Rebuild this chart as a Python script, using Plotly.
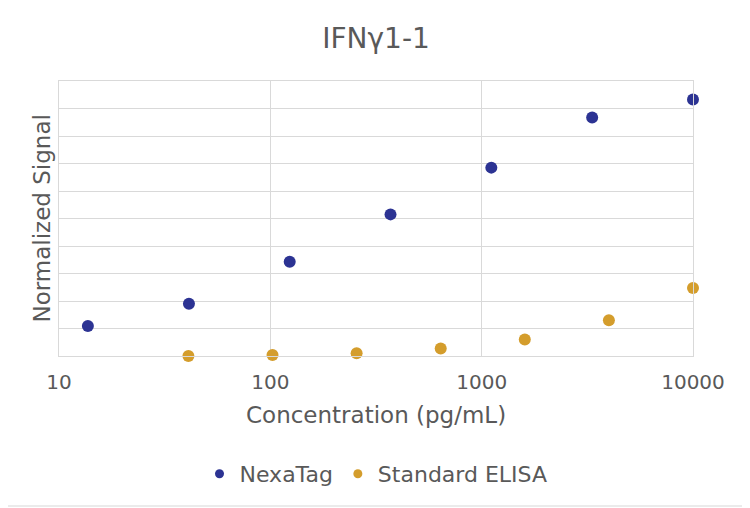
import plotly.graph_objects as go

title = "IFNγ1-1"
x_title = "Concentration (pg/mL)"
y_title = "Normalized Signal"

nexatag_conc = [13.7, 41.2, 123.5, 370.4, 1111, 3333, 10000]
nexatag_signal = [1.09, 1.90, 3.43, 5.15, 6.85, 8.67, 9.33]

elisa_conc = [40.96, 102.4, 256, 640, 1600, 4000, 10000]
elisa_signal = [0.0, 0.04, 0.10, 0.27, 0.60, 1.30, 2.47]

x_tickvals = [10, 100, 1000, 10000]
x_ticktext = ["10", "100", "1000", "10000"]

navy = "#2C3393"
gold = "#D49D2C"
grid = "#D9D9D9"
text_col = "#595959"
font_family = "DejaVu Sans"

fig = go.Figure()
fig.add_trace(go.Scatter(x=nexatag_conc, y=nexatag_signal, mode="markers", cliponaxis=False,
                         marker=dict(color=navy, size=12), showlegend=False, name="NexaTag"))
fig.add_trace(go.Scatter(x=elisa_conc, y=elisa_signal, mode="markers", cliponaxis=False,
                         marker=dict(color=gold, size=12), showlegend=False, name="Standard ELISA"))
# legend-only entries with smaller markers
fig.add_trace(go.Scatter(x=[None], y=[None], mode="markers",
                         marker=dict(color=navy, size=9), name="NexaTag"))
fig.add_trace(go.Scatter(x=[None], y=[None], mode="markers",
                         marker=dict(color=gold, size=9), name="Standard ELISA"))

# page body has an 8px offset, so the figure is 742x500
W, H = 742, 500
L, R, T, B = 51, 57, 73, 152
pw, ph = W - L - R, H - T - B

def px_x(rel):
    return (rel - L) / pw

def px_y(rel):
    return (H - B - rel) / ph

fig.update_layout(
    width=W, height=H,
    margin=dict(l=L, r=R, t=T, b=B, pad=0),
    paper_bgcolor="white", plot_bgcolor="white",
    font=dict(family=font_family, color=text_col, size=20),
    title=dict(text=title, x=0.5, xref="paper", xanchor="center",
               y=1 - 30 / H, yref="container", yanchor="middle",
               font=dict(size=28, color=text_col)),
    showlegend=True,
    legend=dict(orientation="h", x=0.5, xanchor="center", y=px_y(466), yanchor="middle",
                font=dict(size=22, color=text_col), itemwidth=30, tracegroupgap=0),
    annotations=[
        dict(text=x_title, xref="paper", yref="paper", x=0.5, y=px_y(407),
             xanchor="center", yanchor="middle", showarrow=False,
             font=dict(size=23, color=text_col)),
        dict(text=y_title, xref="paper", yref="paper", x=px_x(33), y=0.5,
             xanchor="center", yanchor="middle", showarrow=False, textangle=-90,
             font=dict(size=23, color=text_col)),
    ],
    shapes=[
        dict(type="line", xref="paper", yref="paper",
             x0=px_x(740), x1=px_x(740), y0=px_y(0), y1=px_y(498),
             line=dict(color="#EBEBEB", width=2), layer="below"),
        dict(type="line", xref="paper", yref="paper",
             x0=px_x(0), x1=px_x(740), y0=px_y(498), y1=px_y(498),
             line=dict(color="#EBEBEB", width=2), layer="below"),
    ],
)

fig.update_xaxes(type="log", range=[1, 4], tickvals=x_tickvals, ticktext=x_ticktext,
                 showgrid=True, gridcolor=grid, gridwidth=1.3,
                 showline=True, linecolor=grid, linewidth=1.3, mirror=True,
                 ticks="", ticklabelstandoff=8, tickfont=dict(size=20, color=text_col),
                 zeroline=False)
fig.update_yaxes(range=[0, 10], dtick=1, showticklabels=False,
                 showgrid=True, gridcolor=grid, gridwidth=1.3,
                 showline=True, linecolor=grid, linewidth=1.3, mirror=True,
                 ticks="", zeroline=False)

fig.write_html("out.html")
